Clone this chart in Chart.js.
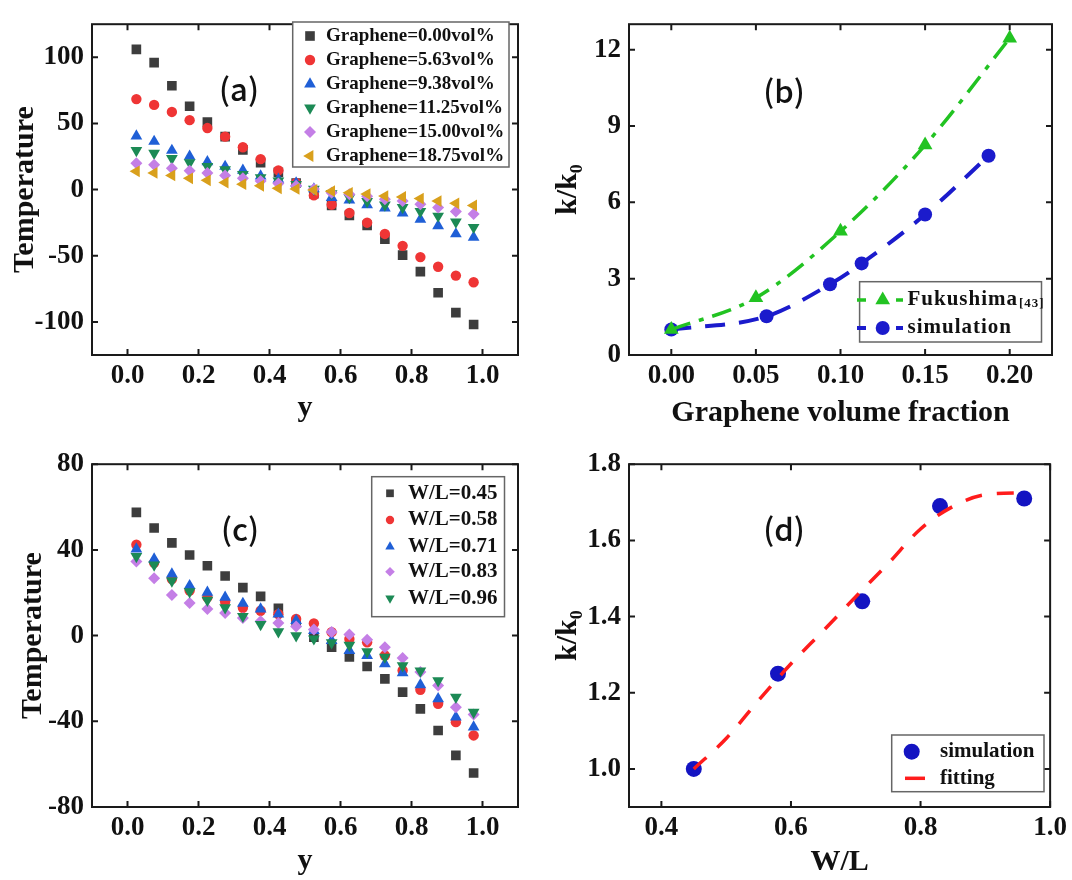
<!DOCTYPE html>
<html>
<head>
<meta charset="utf-8">
<script src="https://cdn.jsdelivr.net/npm/chart.js@4.4.1/dist/chart.umd.min.js"></script>
<style>
  html, body { margin: 0; padding: 0; background: #fff; }
  #fig { position: relative; width: 1072px; height: 880px; overflow: hidden; background: #fff; }
  canvas { position: absolute; }
  .tag { position: absolute; font-family: "Noto Sans CJK SC", "Noto Sans", sans-serif; font-size: 31px;
         font-weight: 500; color: #111; transform: translate(-50%, -50%); white-space: nowrap; }
</style>
</head>
<body>
<div id="fig">
  <canvas id="chartA" width="540" height="440" style="left:0;top:0"></canvas>
  <canvas id="chartB" width="532" height="440" style="left:540px;top:0"></canvas>
  <canvas id="chartC" width="540" height="440" style="left:0;top:440px"></canvas>
  <canvas id="chartD" width="532" height="440" style="left:540px;top:440px"></canvas>
  <div class="tag" style="left:239px;top:87px">(a)</div>
  <div class="tag" style="left:784px;top:89px">(b)</div>
  <div class="tag" style="left:240px;top:527px">(c)</div>
  <div class="tag" style="left:784px;top:527px">(d)</div>
</div>
<script>
/* Data ******************************************************************/

// sample positions along y (shared by panels a and c)
const yPos = [0.025, 0.075, 0.125, 0.175, 0.225, 0.275, 0.325, 0.375, 0.425, 0.475,
              0.525, 0.575, 0.625, 0.675, 0.725, 0.775, 0.825, 0.875, 0.925, 0.975];

// (a) temperature vs y for each graphene loading
const grapheneLabels = ["Graphene=0.00vol%", "Graphene=5.63vol%", "Graphene=9.38vol%",
                        "Graphene=11.25vol%", "Graphene=15.00vol%", "Graphene=18.75vol%"];
const tA000 = [106, 96, 78.5, 63, 51, 40, 30, 20.4, 13, 5, -3, -12, -19.5, -27, -37.5, -49.5, -62, -78, -93, -102];
const tA563 = [68.4, 64, 58.7, 52.5, 46.5, 40, 32, 23, 14.5, 5, -4.4, -11.4, -17.7, -25, -33.5, -42.5, -51, -58.3, -65, -70];
const tA938 = [40.5, 36.4, 29.6, 25.2, 21, 17.5, 14.5, 10.2, 7.8, 5, 0.5, -6, -8, -11.6, -14, -17.7, -22.5, -27.4, -33.5, -36];
const tA1125 = [29.6, 27.6, 23.5, 20.4, 17.5, 15, 11.4, 9, 6.5, 4, 0.3, -3, -6, -9, -11.6, -13.5, -16.5, -20, -24.5, -28.5];
const tA1500 = [19.9, 18.7, 16.2, 14.3, 12.6, 10.7, 8.5, 6.5, 4.6, 2.9, 0.5, -2.4, -3.6, -5, -7.3, -8.7, -11, -13.6, -16.5, -18.5];
const tA1875 = [13.8, 12.6, 10.7, 8.5, 7, 5.3, 4.1, 2.9, 1, 0.5, -0.3, -1.2, -2.4, -3.4, -4.9, -5.6, -6.8, -8.7, -10.4, -12];

// (b) k/k0 vs graphene volume fraction
const fracFuku = [0, 0.05, 0.1, 0.15, 0.2];
const kFuku = [1.0, 2.25, 4.86, 8.25, 12.45];
const fracSim = [0, 0.0563, 0.0938, 0.1125, 0.15, 0.1875];
const kSim = [1.0, 1.52, 2.78, 3.6, 5.52, 7.83];

// (c) temperature vs y for each W/L
const wlLabels = ["W/L=0.45", "W/L=0.58", "W/L=0.71", "W/L=0.83", "W/L=0.96"];
const tC045 = [57.5, 50.2, 43.3, 37.6, 32.6, 27.8, 22.4, 18.3, 12.7, 6.2, -0.8, -5.4, -10, -14.4, -20.2, -26.4, -34.2, -44.3, -55.9, -64.1];
const tC058 = [42.4, 34, 26.4, 21, 17.9, 15.8, 13, 11.6, 10, 7.8, 5.7, 1.6, -1.6, -3.1, -9.3, -16.3, -25.3, -31.8, -40.4, -46.6];
const tC071 = [40.4, 35.7, 28.7, 23.3, 20.2, 17.9, 15, 12.4, 10, 7, 2.3, -2.3, -7, -9.3, -13.2, -17.4, -23, -29.5, -38, -42.7];
const tC083 = [34.6, 26.8, 19, 15.2, 12.4, 10.5, 8.2, 6.7, 5.9, 4.3, 2.8, 1.7, 0.5, -1.9, -5.4, -10.4, -17, -23.3, -33.4, -36.8];
const tC096 = [37, 33, 25.5, 20.5, 16.5, 13, 9, 5.2, 1.8, 0, -1.5, -3.3, -4.5, -7.5, -10, -14, -16.5, -21, -28.7, -35.7];

// (d) k/k0 vs W/L, simulation points and fitted curve
const wlSim = [0.45, 0.58, 0.71, 0.83, 0.96];
const kWl = [1.0, 1.25, 1.44, 1.69, 1.71];
const wlFit = [0.45, 0.5, 0.55, 0.6, 0.65, 0.7, 0.75, 0.8, 0.85, 0.9, 0.96];
const kFit = [1.0, 1.08, 1.18, 1.276, 1.363, 1.452, 1.539, 1.63, 1.689, 1.72, 1.725];

// tick values
const yTicksX = [0, 0.2, 0.4, 0.6, 0.8, 1.0];
const aTicksY = [-100, -50, 0, 50, 100];
const bTicksX = [0, 0.05, 0.1, 0.15, 0.2];
const bTicksY = [0, 3, 6, 9, 12];
const cTicksY = [-80, -40, 0, 40, 80];
const dTicksX = [0.4, 0.6, 0.8, 1.0];
const dTicksY = [1.0, 1.2, 1.4, 1.6, 1.8];

/* Helpers ****************************************************************/

const SERIF = '"Liberation Serif", "DejaVu Serif", serif';
const INK = "#111";
const pts = (xs, ys) => xs.map((x, i) => ({x: x, y: ys[i]}));

function drawMarker(ctx, style, x, y, r, rot) {
    const rad = (rot || 0) * Math.PI / 180;
    ctx.beginPath();
    if (style === "circle") {
        ctx.arc(x, y, r, 0, Math.PI * 2);
    } else if (style === "rect") {
        const s = r * Math.SQRT1_2;
        ctx.rect(x - s, y - s, 2 * s, 2 * s);
    } else if (style === "rectRot") {
        ctx.moveTo(x, y - r); ctx.lineTo(x + r, y); ctx.lineTo(x, y + r); ctx.lineTo(x - r, y);
        ctx.closePath();
    } else if (style === "triangle") {
        for (let k = 0; k < 3; k++) {
            const a = rad + k * 2 * Math.PI / 3;
            const px = x + Math.sin(a) * r, py = y - Math.cos(a) * r;
            if (k) ctx.lineTo(px, py); else ctx.moveTo(px, py);
        }
        ctx.closePath();
    }
    ctx.fill();
}

// closed frame with inward ticks on all four sides
const framePlugin = {
    id: "frame",
    afterDraw(chart) {
        const {ctx, chartArea: a, scales} = chart;
        ctx.save();
        ctx.strokeStyle = "#1a1a1a";
        ctx.lineWidth = 2;
        ctx.strokeRect(a.left, a.top, a.right - a.left, a.bottom - a.top);
        ctx.beginPath();
        scales.x.ticks.forEach((t, i) => {
            const px = scales.x.getPixelForTick(i);
            ctx.moveTo(px, a.bottom); ctx.lineTo(px, a.bottom - 6);
            ctx.moveTo(px, a.top); ctx.lineTo(px, a.top + 6);
        });
        scales.y.ticks.forEach((t, i) => {
            const py = scales.y.getPixelForTick(i);
            ctx.moveTo(a.left, py); ctx.lineTo(a.left + 6, py);
            ctx.moveTo(a.right, py); ctx.lineTo(a.right - 6, py);
        });
        ctx.stroke();
        ctx.restore();
    }
};

// boxed legend inside the plot, drawn from the dataset styles
const boxLegendPlugin = {
    id: "boxLegend",
    afterDraw(chart, args, opts) {
        if (!opts.box) return;
        const ctx = chart.ctx;
        const [bx, by, bw, bh] = opts.box;
        ctx.save();
        ctx.fillStyle = "#fff";
        ctx.fillRect(bx, by, bw, bh);
        ctx.strokeStyle = "#666";
        ctx.lineWidth = 1.5;
        ctx.strokeRect(bx, by, bw, bh);
        chart.data.datasets.forEach((ds, i) => {
            const y = opts.rows[i];
            if (ds.showLine && opts.segs) {
                ctx.strokeStyle = ds.borderColor;
                ctx.lineWidth = ds.borderWidth;
                ctx.setLineDash([]);
                ctx.beginPath();
                opts.segs.forEach(s => { ctx.moveTo(s[0], y); ctx.lineTo(s[1], y); });
                ctx.stroke();
            }
            if (ds.pointRadius > 0) {
                ctx.fillStyle = ds.pointBackgroundColor;
                drawMarker(ctx, ds.pointStyle, opts.markerX, y, ds.pointRadius * (opts.markerScale || 1), ds.pointRotation);
            }
            ctx.fillStyle = INK;
            ctx.font = "bold " + opts.fontSize + "px " + SERIF;
            ctx.textBaseline = "middle";
            ctx.textAlign = "left";
            if (opts.spacing) ctx.letterSpacing = opts.spacing + "px";
            ctx.fillText(ds.label, opts.textX, y);
            if (ds.labelSub) {
                const w = ctx.measureText(ds.label).width;
                ctx.font = "bold " + Math.round(opts.fontSize * 0.62) + "px " + SERIF;
                ctx.fillText(ds.labelSub, opts.textX + w + 1, y + 4);
            }
        });
        ctx.restore();
    }
};

Chart.register(framePlugin, boxLegendPlugin);

function axis(min, max, ticks, digits, title, titlePad, size, horizontal) {
    return {
        type: "linear", min: min, max: max,
        grid: {display: false, drawTicks: false},
        border: {display: false},
        ticks: {
            font: {family: SERIF, size: 27, weight: "bold"}, color: INK,
            padding: horizontal ? 5 : 8, maxRotation: 0, autoSkip: false,
            callback: v => v.toFixed(digits)
        },
        afterBuildTicks: s => { s.ticks = ticks.map(v => ({value: v})); },
        afterFit: s => { if (horizontal) s.height = size; else s.width = size; },
        title: {display: true, text: title, color: INK, padding: titlePad,
                font: {family: SERIF, size: 30, weight: "bold"}}
    };
}

function scatterSet(label, ys, color, style, r, rot, idx) {
    return {
        label: label, data: pts(yPos, ys), showLine: false, order: -idx,
        pointStyle: style, pointRadius: r, pointRotation: rot || 0,
        pointBackgroundColor: color, pointBorderColor: color, pointBorderWidth: 0,
        borderColor: color, backgroundColor: color
    };
}

function baseOptions(pad, legend, scales) {
    return {
        responsive: false, animation: false, devicePixelRatio: 1,
        layout: {padding: pad},
        plugins: {legend: {display: false}, tooltip: {enabled: false}, boxLegend: legend},
        scales: scales
    };
}

/* Panel (a) **************************************************************/

const colBlack = "#3d3d3d", colRed = "#ef3535", colBlue = "#1f5fd6",
      colGreen = "#1c8a55", colPurple = "#c47fe6", colOrange = "#d9a01c";

new Chart(document.getElementById("chartA"), {
    type: "scatter",
    data: {datasets: [
        scatterSet(grapheneLabels[0], tA000, colBlack, "rect", 6.8, 0, 0),
        scatterSet(grapheneLabels[1], tA563, colRed, "circle", 5.2, 0, 1),
        scatterSet(grapheneLabels[2], tA938, colBlue, "triangle", 6.8, 0, 2),
        scatterSet(grapheneLabels[3], tA1125, colGreen, "triangle", 6.8, 180, 3),
        scatterSet(grapheneLabels[4], tA1500, colPurple, "rectRot", 6, 0, 4),
        scatterSet(grapheneLabels[5], tA1875, colOrange, "triangle", 6.8, -90, 5)
    ]},
    options: baseOptions({top: 12, right: 22, bottom: 0, left: 0},
        {box: [292.7, 22, 216.3, 145], rows: [36, 60, 84, 108, 132, 156], markerX: 310, textX: 326, fontSize: 19},
        {
            x: axis(-0.1, 1.1, yTicksX, 1, "y", {top: 0, bottom: 14}, 85, true),
            y: axis(-125, 125, aTicksY, 0, "Temperature", {top: 7, bottom: 0}, 92, false)
        })
});

/* Panel (b) **************************************************************/

new Chart(document.getElementById("chartB"), {
    type: "scatter",
    data: {datasets: [
        {
            label: "Fukushima", labelSub: "[43]", data: pts(fracFuku, kFuku), showLine: true,
            borderColor: "#22c322", backgroundColor: "#22c322", borderWidth: 3.5, borderDash: [20, 9, 5, 9],
            cubicInterpolationMode: "monotone",
            pointStyle: "triangle", pointRadius: 8.5, pointBackgroundColor: "#22c322", pointBorderWidth: 0
        },
        {
            label: "simulation", data: pts(fracSim, kSim), showLine: true,
            borderColor: "#1b1bcc", backgroundColor: "#1b1bcc", borderWidth: 4, borderDash: [20, 14],
            cubicInterpolationMode: "monotone",
            pointStyle: "circle", pointRadius: 7, pointBackgroundColor: "#1b1bcc", pointBorderWidth: 0
        }
    ]},
    options: baseOptions({top: 13, right: 20, bottom: 0, left: 0},
        {box: [319.6, 281.7, 181.9, 60.3], rows: [300, 328], markerX: 342.7, segs: [[317, 326], [356, 363]],
         textX: 367.5, fontSize: 21, spacing: 1},
        {
            x: axis(-0.025, 0.225, bTicksX, 2, "Graphene volume fraction", {top: 0, bottom: 9}, 85, true),
            y: axis(0, 13, bTicksY, 0, "k/k\u2080", {top: 10, bottom: 0}, 89, false)
        })
});

/* Panel (c) **************************************************************/

new Chart(document.getElementById("chartC"), {
    type: "scatter",
    data: {datasets: [
        scatterSet(wlLabels[0], tC045, colBlack, "rect", 6.8, 0, 0),
        scatterSet(wlLabels[1], tC058, colRed, "circle", 5.2, 0, 1),
        scatterSet(wlLabels[2], tC071, colBlue, "triangle", 6.8, 0, 2),
        scatterSet(wlLabels[3], tC083, colPurple, "rectRot", 6, 0, 3),
        scatterSet(wlLabels[4], tC096, colGreen, "triangle", 6.8, 180, 4)
    ]},
    options: baseOptions({top: 23, right: 22, bottom: 0, left: 0},
        {box: [371.7, 36.7, 132.8, 140], rows: [53.3, 80, 106.7, 131.7, 158.3], markerX: 390, textX: 408,
         fontSize: 21, markerScale: 0.8},
        {
            x: axis(-0.1, 1.1, yTicksX, 1, "y", {top: 0, bottom: 1}, 73, true),
            y: axis(-80, 80, cTicksY, 0, "Temperature", {top: 15, bottom: 0}, 92, false)
        })
});

/* Panel (d) **************************************************************/

new Chart(document.getElementById("chartD"), {
    type: "scatter",
    data: {datasets: [
        {
            label: "simulation", data: pts(wlSim, kWl), showLine: false, order: 1,
            pointStyle: "circle", pointRadius: 8, pointBackgroundColor: "#1414c2",
            pointBorderWidth: 0, borderColor: "#1414c2", backgroundColor: "#1414c2"
        },
        {
            label: "fitting", data: pts(wlFit, kFit), showLine: true, order: 0,
            borderColor: "#ff1c1c", backgroundColor: "#ff1c1c", borderWidth: 3.5, borderDash: [17, 15],
            cubicInterpolationMode: "monotone", pointRadius: 0
        }
    ]},
    options: baseOptions({top: 24, right: 20, bottom: 0, left: 0},
        {box: [351.7, 295, 152.3, 56.7], rows: [311.7, 338.3], markerX: 371.7, segs: [[365, 385]],
         textX: 400, fontSize: 21},
        {
            x: axis(0.35, 1.0, dTicksX, 1, "W/L", {top: 0, bottom: 0}, 73, true),
            y: axis(0.9, 1.8, dTicksY, 1, "k/k\u2080", {top: 10, bottom: 0}, 89, false)
        })
});
</script>
</body>
</html>
